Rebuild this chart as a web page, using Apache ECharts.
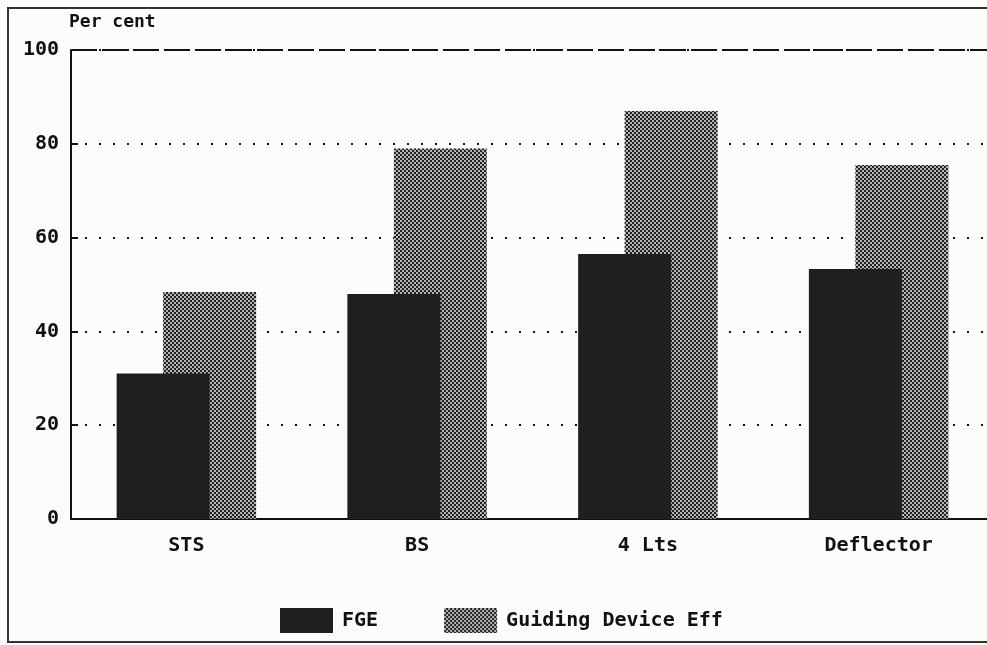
<!DOCTYPE html>
<html>
<head>
<meta charset="utf-8">
<script src="https://cdn.jsdelivr.net/npm/echarts@6/dist/echarts.min.js"></script>
<style>
html,body{margin:0;padding:0;background:#fcfcfa;}
#c{width:987px;height:645px;}
</style>
</head>
<body>
<div id="c"></div>
<script>
const categories = ['STS', 'BS', '4 Lts', 'Deflector'];
const fgeValues = [31, 48, 56.5, 53.3];
const guidingValues = [48.4, 79, 87, 75.5];
const yTicks = [0, 20, 40, 60, 80, 100];

function makePattern() {
  const cv = document.createElement('canvas');
  cv.width = 4; cv.height = 4;
  const ctx = cv.getContext('2d');
  ctx.fillStyle = '#222';
  ctx.fillRect(0, 0, 4, 4);
  ctx.fillStyle = '#b4b4b4';
  ctx.fillRect(0, 0, 2, 2);
  ctx.fillRect(2, 2, 2, 2);
  return cv;
}
const pattern = { image: makePattern(), repeat: 'repeat' };

const font = '"DejaVu Sans Mono", "Liberation Mono", monospace';
const chart = echarts.init(document.getElementById('c'), null, { renderer: 'canvas' });
chart.setOption({
  backgroundColor: '#fcfcfa',
  animation: false,
  graphic: [
    { type: 'rect', shape: { x: 8, y: 8, width: 1000, height: 634 }, style: { fill: 'none', stroke: '#333', lineWidth: 2 }, z: 0 },
    { type: 'text', left: 69, top: 13, style: { text: 'Per cent', font: 'bold 18px ' + font, fill: '#111' } }
  ],
  legend: {
    left: 275, top: 603,
    itemWidth: 53, itemHeight: 25, itemGap: 66,
    icon: 'rect',
    textStyle: { fontFamily: font, fontSize: 20, fontWeight: 'bold', color: '#111', padding: [0, 0, 0, 4] },
    data: ['FGE', 'Guiding Device Eff']
  },
  grid: { left: 71, top: 50, width: 923, height: 469, outerBoundsMode: 'none', containLabel: false },
  xAxis: {
    type: 'category',
    data: categories,
    axisLine: { lineStyle: { color: '#111', width: 2 } },
    axisTick: { show: false },
    axisLabel: { margin: 17, fontFamily: font, fontSize: 20, fontWeight: 'bold', color: '#111' }
  },
  yAxis: {
    type: 'value',
    min: yTicks[0], max: yTicks[yTicks.length - 1], interval: 20,
    axisLine: { show: true, lineStyle: { color: '#111', width: 2 } },
    axisTick: { show: true, inside: true, length: 7, lineStyle: { color: '#111', width: 2 } },
    axisLabel: { margin: 12, fontFamily: font, fontSize: 20, fontWeight: 'bold', color: '#111' },
    splitLine: { show: true, lineStyle: { color: '#111', width: 2, type: [2, 12] } }
  },
  series: [
    {
      name: 'FGE', type: 'bar', data: fgeValues,
      barWidth: 93, barGap: '-50%', z: 3,
      itemStyle: { color: '#1f1f1f' },
      markLine: {
        silent: true, symbol: 'none', label: { show: false },
        lineStyle: { color: '#111', width: 2, type: [26, 5] },
        data: [{ yAxis: 100 }]
      }
    },
    {
      name: 'Guiding Device Eff', type: 'bar', data: guidingValues,
      barWidth: 93, z: 2,
      itemStyle: { color: pattern }
    }
  ]
});
</script>
</body>
</html>
